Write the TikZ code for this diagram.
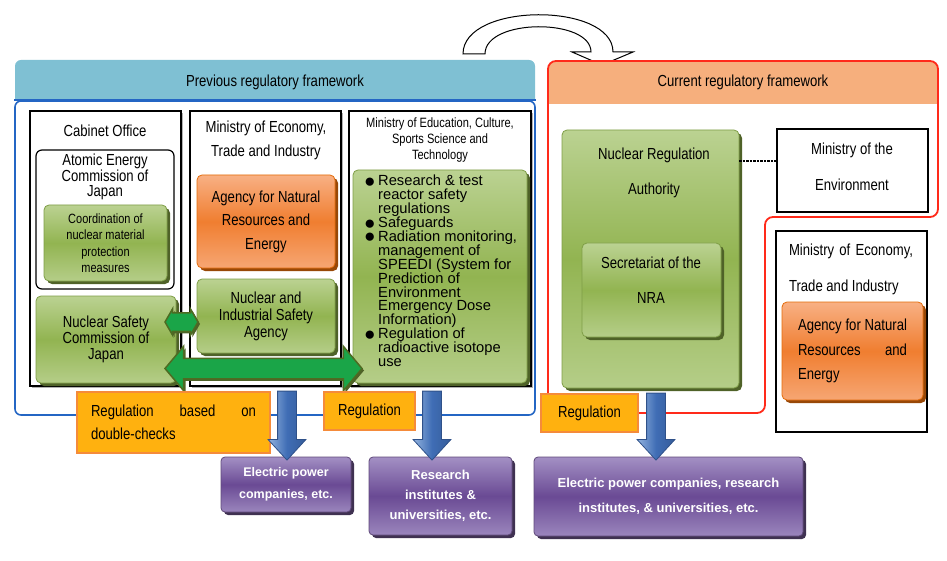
\documentclass[tikz,border=0pt]{standalone}
\usepackage{fontspec}
\setmainfont{Liberation Sans}
\newfontfamily\narrowfont[FakeStretch=0.82]{Liberation Sans}
\usetikzlibrary{shapes.arrows,shadows}

\newcommand{\nfont}[2]{\narrowfont\fontsize{#1}{#2}\selectfont\lineskiplimit=-30pt\relax}
\newcommand{\lfont}[2]{\rmfamily\fontsize{#1}{#2}\selectfont\lineskiplimit=-30pt\relax}
\newcommand{\bfont}[2]{\bfseries\fontsize{#1}{#2}\selectfont\lineskiplimit=-30pt\relax}
\newcommand{\dotitem}{\makebox[14pt][l]{\fontsize{19}{10}\selectfont\raisebox{-1.5pt}{●}}}
\newcommand{\contitem}{\hspace*{14pt}}

\definecolor{frameblue}{HTML}{2466C4}
\definecolor{headblue}{HTML}{7FC0D3}
\definecolor{headorange}{HTML}{F6AF7D}
\definecolor{framered}{HTML}{FF2A1A}
\definecolor{greentop}{HTML}{BBD292}
\definecolor{greenmid}{HTML}{92B451}
\definecolor{greenline}{HTML}{7F9E47}
\definecolor{greenshadow}{HTML}{4F6228}
\definecolor{orangetop}{HTML}{F8B084}
\definecolor{orangemid}{HTML}{F07E30}
\definecolor{orangeline}{HTML}{E46C0A}
\definecolor{orangeshadow}{HTML}{984807}
\definecolor{purpletop}{HTML}{A390C4}
\definecolor{purplemid}{HTML}{6A4A94}
\definecolor{purpleline}{HTML}{5F497A}
\definecolor{purpleshadow}{HTML}{3F3151}
\definecolor{regfill}{HTML}{FFB10F}
\definecolor{regline}{HTML}{F58B3A}
\definecolor{arrowgreen}{HTML}{1AA548}
\definecolor{arrowgreenline}{HTML}{4E6B22}
\definecolor{arrowblue}{HTML}{3F6DB5}
\definecolor{arrowbluelight}{HTML}{93B3DE}
\definecolor{arrowblueline}{HTML}{2F5189}

\begin{document}
\begin{tikzpicture}[x=1pt,y=-1pt,
    every node/.style={inner sep=0pt},
    column/.style={draw=black, line width=1.2pt, fill=white,
      drop shadow={shadow xshift=2pt, shadow yshift=-2pt, fill=gray!60, opacity=1}},
    greenbox/.style={draw=greenline, line width=0.8pt, rounded corners=5pt,
      top color=greentop, bottom color=greentop!85!greenmid, middle color=greenmid,
      drop shadow={shadow xshift=3pt, shadow yshift=-3pt, fill=greenshadow, opacity=1}},
    orangebox/.style={draw=orangeline, line width=0.8pt, rounded corners=5pt,
      top color=orangetop, bottom color=orangetop!80!orangemid, middle color=orangemid,
      drop shadow={shadow xshift=3pt, shadow yshift=-3pt, fill=orangeshadow, opacity=1}},
    purplebox/.style={draw=purpleline, line width=0.8pt, rounded corners=4pt, text=white,
      top color=purpletop, bottom color=purpletop!85!purplemid, middle color=purplemid,
      drop shadow={shadow xshift=3pt, shadow yshift=-3pt, fill=purpleshadow, opacity=1}},
    regbox/.style={draw=regline, line width=2.5pt, fill=regfill, font={\nfont{16}{23}}},
    downarrow/.style={single arrow, shape border rotate=270, draw=arrowblueline, line width=0.8pt,
      inner sep=9pt, single arrow head extend=9.5pt, single arrow tip angle=85,
      left color=arrowbluelight, right color=arrowblue!85!black, middle color=arrowblue},
    botharrow/.style={double arrow, draw=arrowgreenline, line width=1.5pt, fill=arrowgreen,
      inner xsep=0pt,
      drop shadow={shadow xshift=2pt, shadow yshift=-2pt, fill=greenshadow, opacity=1}}
  ]
  \useasboundingbox (0,0) rectangle (947,561);

  % turning arrow from the old framework to the new one
  \draw[line width=1pt, fill=white] (463,54) .. controls (463,2) and (613,2) .. (613,52)
    -- (633,52) -- (602,65) -- (572,52) -- (591,52)
    .. controls (591,18) and (485,18) .. (485,54) -- cycle;

  % previous framework
  \fill[headblue] (15,101) [rounded corners=6pt] -- (15,60) -- (535,60) [sharp corners] -- (535,101) -- cycle;
  \node[draw=frameblue, line width=1.6pt, rounded corners=6pt, minimum width=520, minimum height=314]
    (prevframe) at (275,258) {};
  \draw[frameblue, line width=1.6pt] (prevframe.north west) -- (prevframe.north east);
  \node[font={\nfont{16}{20}}] (prevhead) at (275,82) {Previous regulatory framework};

  % current framework
  \fill[headorange] (548,104) [rounded corners=8pt] -- (548,61) -- (938,61) [sharp corners] -- (938,104) -- cycle;
  \draw[framered, line width=1.8pt, rounded corners=8pt] (548,61) -- (938,61) -- (938,217)
    -- (765,217) -- (765,413) -- (548,413) -- cycle;
  \node[font={\nfont{16}{20}}] (curhead) at (743,82) {Current regulatory framework};

  % cabinet office
  \node[column, minimum width=151, minimum height=275] (cabinet) at (105.5,248.5) {};
  \node[font={\nfont{16}{20}}] (cabinetT) at (105,131) {Cabinet Office};
  \node[draw=black, line width=1.2pt, rounded corners=6pt, minimum width=138, minimum height=139]
    (aec) at (105,219.5) {};
  \node[font={\nfont{16}{15.5}}, align=center] (aecT) at (105,177) {Atomic Energy\\Commission of\\Japan};
  \node[greenbox, minimum width=123, minimum height=76, font={\nfont{13.4}{16.5}}, align=center]
    (coord) at (105.5,243) {Coordination of\\nuclear material\\protection\\measures};
  \node[greenbox, minimum width=140, minimum height=87, font={\nfont{16}{16}}, align=center]
    (nsc) at (106,339.5) {Nuclear Safety\\Commission of\\Japan};

  % METI
  \node[column, minimum width=151, minimum height=275] (meti) at (265.5,248.5) {};
  \node[font={\nfont{16}{24}}, align=center] (metiT) at (266,140) {Ministry of Economy,\\Trade and Industry};
  \node[orangebox, minimum width=138, minimum height=93, font={\nfont{16}{23.5}}, align=center]
    (anre) at (266,221.5) {Agency for Natural\\Resources and\\Energy};
  \node[greenbox, minimum width=138, minimum height=74, font={\nfont{16}{17}}, align=center]
    (nisa) at (266,316) {Nuclear and\\Industrial Safety\\Agency};

  % MEXT
  \node[column, minimum width=182, minimum height=275] (mext) at (440,248.5) {};
  \node[font={\nfont{13.5}{16}}, align=center] (mextT) at (440,140)
    {Ministry of Education, Culture,\\Sports Science and\\Technology};
  \node[greenbox, minimum width=174, minimum height=213] (mextbox) at (440,276.5) {};
  \node[font={\lfont{14.7}{13.9}}, align=left, anchor=north west] (mextlist) at (364,175)
    {\dotitem Research \& test\\
     \contitem reactor safety\\
     \contitem regulations\\
     \dotitem Safeguards\\
     \dotitem Radiation monitoring,\\
     \contitem management of\\
     \contitem SPEEDI (System for\\
     \contitem Prediction of\\
     \contitem Environment\\
     \contitem Emergency Dose\\
     \contitem Information)\\
     \dotitem Regulation of\\
     \contitem radioactive isotope\\
     \contitem use};

  % cooperation arrows
  \node[botharrow, minimum height=33, inner ysep=8.5pt, double arrow head extend=4pt,
    double arrow tip angle=120] (coop) at (181.5,322) {};
  \node[botharrow, minimum height=197, inner ysep=9.5pt, double arrow head extend=12pt,
    double arrow tip angle=100] (check) at (263.5,368.5) {};

  % nuclear regulation authority
  \node[greenbox, minimum width=177, minimum height=258] (nra) at (650.5,259) {};
  \node[font={\nfont{16}{35}}, align=center] (nraT) at (654,172.5) {Nuclear Regulation\\Authority};
  \node[greenbox, minimum width=139, minimum height=94] (sec) at (651.5,290) {};
  \node[font={\nfont{16}{35}}, align=center] (secT) at (651,280.5) {Secretariat of the\\NRA};
  \node[draw=black, line width=1.2pt, fill=white, minimum width=151, minimum height=83] (moe) at (852.5,170.5) {};
  \node[font={\nfont{16}{36}}, align=center] (moeT) at (852,167) {Ministry of the\\Environment};
  \coordinate (dotline) at (0,161);
  \draw[densely dotted, line width=2.5pt] (nra.east |- dotline) -- (moe.west |- dotline);
  \node[draw=black, line width=1.2pt, fill=white, minimum width=151, minimum height=201]
    (meti2) at (851.5,331.5) {};
  \node[font={\nfont{16}{36}}, text width=124, align=justify] (meti2T) at (851,269)
    {Ministry of Economy,\linebreak Trade and Industry};
  \node[orangebox, minimum width=141, minimum height=98, text width=109, align=justify,
    font={\nfont{16}{24.5}}] (anre2) at (852.5,351)
    {Agency for Natural\linebreak Resources and\linebreak Energy};

  % regulation labels
  \node[regbox, minimum width=193, minimum height=61, text width=165, align=justify]
    (reg1) at (173.5,422.5) {Regulation based on\linebreak double-checks};
  \node[regbox, minimum width=91, minimum height=38] (reg2) at (369.5,411) {Regulation};
  \node[regbox, minimum width=97, minimum height=38] (reg3) at (589.5,413) {Regulation};

  % regulated bodies
  \node[purplebox, minimum width=130, minimum height=55, font={\bfont{12.5}{22}}, align=center]
    (power) at (286,484.5) {Electric power\\companies, etc.};
  \node[purplebox, minimum width=143, minimum height=78, font={\bfont{13}{20}}, align=center]
    (research) at (440.5,496) {Research\\institutes \&\\universities, etc.};
  \node[purplebox, minimum width=269, minimum height=79, font={\bfont{13}{25}}, align=center]
    (all) at (668.5,496.5) {Electric power companies, research\\institutes, \& universities, etc.};

  \node[downarrow, minimum height=69] (down1) at (287,420.5) {};
  \node[downarrow, minimum height=69] (down2) at (432,420.5) {};
  \node[downarrow, minimum height=67] (down3) at (656,421.5) {};
\end{tikzpicture}
\end{document}
